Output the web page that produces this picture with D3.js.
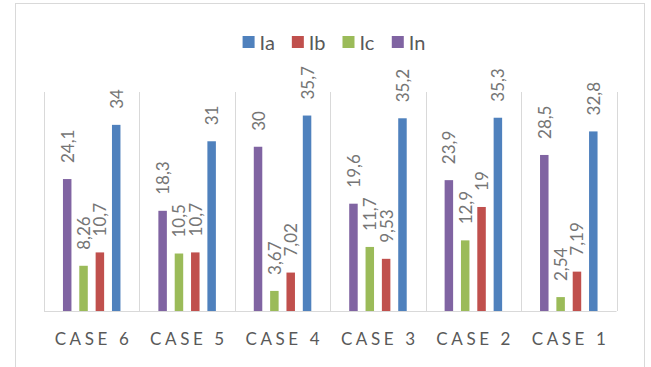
<!doctype html>
<html lang="en">
  <head>
    <meta charset="utf-8">
    <title>Currents by case</title>
    <script src="https://d3js.org/d3.v7.min.js"></script>
    <style>
    body { margin: 0; background: #fff; }
    text { font-family: Lato, "Liberation Sans", sans-serif; }
    .grid line { stroke: #d9d9d9; stroke-width: 1; }
    </style>
  </head>
  <body>
    <svg width="651" height="367"></svg>

    <script>
      var categories = ['CASE 6', 'CASE 5', 'CASE 4', 'CASE 3', 'CASE 2', 'CASE 1'];
      var seriesNames = ['Ia', 'Ib', 'Ic', 'In'];
      var Ia = [34, 31, 35.7, 35.2, 35.3, 32.8];
      var Ib = [10.7, 10.7, 7.02, 9.53, 19, 7.19];
      var Ic = [8.26, 10.5, 3.67, 11.7, 12.9, 2.54];
      var In = [24.1, 18.3, 30, 19.6, 23.9, 28.5];
      var yTicks = [0, 40];

      var colors = { Ia: '#4f81bd', Ib: '#c0504d', Ic: '#9bbb59', In: '#8064a2' };
      var values = { Ia: Ia, Ib: Ib, Ic: Ic, In: In };
      // bars are drawn in reverse legend order
      var drawOrder = seriesNames.slice().reverse();

      var svg = d3.select('svg');

      // outer chart border
      svg.append('rect')
        .attr('x', 15.5).attr('y', 3.5)
        .attr('width', 629).attr('height', 380)
        .attr('fill', 'none')
        .attr('stroke', '#d9d9d9');

      var x = d3.scaleBand()
        .domain(categories)
        .range([44, 616.5]);

      var xs = d3.scaleBand()
        .domain(drawOrder)
        .range([0, x.bandwidth()])
        .paddingInner(0.48)
        .paddingOuter(1.16);

      var y = d3.scaleLinear()
        .domain(d3.extent(yTicks))
        .range([311, 92]);

      // category separators + baseline
      var grid = svg.append('g').attr('class', 'grid');
      var edges = categories.map(function(c){ return x(c); }).concat([x.range()[1]]);
      grid.selectAll('line.sep').data(edges)
        .enter().append('line')
          .attr('class', 'sep')
          .attr('x1', function(d){ return Math.round(d) + 0.5; })
          .attr('x2', function(d){ return Math.round(d) + 0.5; })
          .attr('y1', y(40))
          .attr('y2', y(0));
      grid.append('line')
        .attr('x1', x.range()[0]).attr('x2', x.range()[1])
        .attr('y1', y(0) + 0.5).attr('y2', y(0) + 0.5);

      var groups = svg.selectAll('g.cat').data(categories)
        .enter().append('g')
          .attr('class', 'cat')
          .attr('transform', function(d){ return 'translate(' + x(d) + ',0)'; });

      var cells = groups.selectAll('g.bar')
        .data(function(d, i){
          return drawOrder.map(function(s){ return { s: s, v: values[s][i] }; });
        })
        .enter().append('g').attr('class', 'bar');

      cells.append('rect')
        .attr('x', function(d){ return xs(d.s); })
        .attr('width', xs.bandwidth())
        .attr('y', function(d){ return y(d.v); })
        .attr('height', function(d){ return y(0) - y(d.v); })
        .attr('fill', function(d){ return colors[d.s]; });

      cells.append('text')
        .attr('transform', function(d){
          return 'translate(' + (xs(d.s) + xs.bandwidth() / 2) + ',' + (y(d.v) - 16) + ') rotate(-90)';
        })
        .attr('dominant-baseline', 'central')
        .attr('font-size', 17)
        .attr('fill', '#757575')
        .text(function(d){ return String(d.v).replace('.', ','); });

      // category labels
      var ls = 3.6;
      svg.append('g').selectAll('text').data(categories)
        .enter().append('text')
          .attr('x', function(d){ return x(d) + x.bandwidth() / 2 + ls / 2; })
          .attr('y', 338)
          .attr('text-anchor', 'middle')
          .attr('dominant-baseline', 'central')
          .attr('font-size', 17)
          .attr('fill', '#595959')
          .attr('letter-spacing', ls)
          .text(function(d){ return d; });

      // legend
      var legend = svg.append('g');
      var items = legend.selectAll('g').data(seriesNames)
        .enter().append('g');
      items.append('rect')
        .attr('width', 12).attr('height', 12)
        .attr('y', -6)
        .attr('fill', function(d){ return colors[d]; });
      items.append('text')
        .attr('x', 17)
        .attr('dominant-baseline', 'central')
        .attr('font-size', 20)
        .attr('fill', '#595959')
        .text(function(d){ return d; });
      var pos = 0;
      items.each(function(){
        var w = this.getBBox().width;
        d3.select(this).attr('transform', 'translate(' + pos + ',0)');
        pos += w + 17;
      });
      legend.attr('transform', 'translate(' + (334 - (pos - 17) / 2) + ',42)');
    </script>
  </body>
</html>
